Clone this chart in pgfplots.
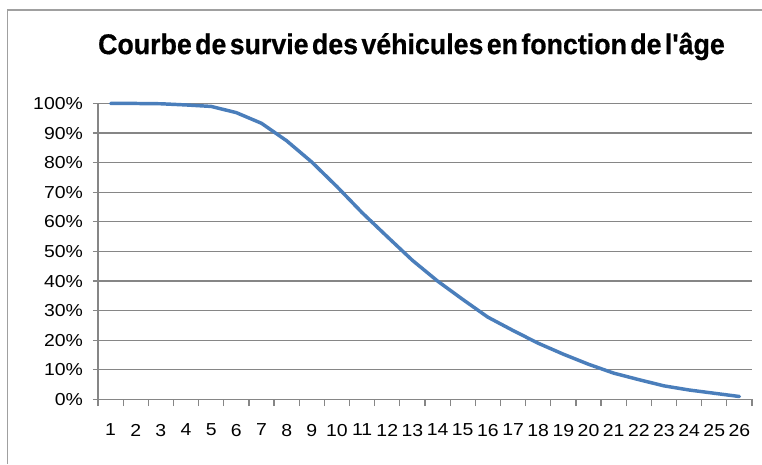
\documentclass[border=0pt]{standalone}
\usepackage{pgfplots}
\pgfplotsset{compat=1.18}
\usepackage{fontspec}
\setmainfont{Liberation Sans}
\newfontfamily\tickfont[FakeStretch=1.12]{Liberation Sans}
\newfontfamily\titlefont[WordSpace=0.45, FakeBold=0.6]{Liberation Sans Bold}
\definecolor{linecol}{RGB}{74,126,187}
\definecolor{gridcol}{RGB}{134,134,134}
\definecolor{framecol}{RGB}{160,160,160}
\begin{document}
\begin{tikzpicture}
\path[use as bounding box, fill=white] (0,0) rectangle (571.5pt,-348pt);
\draw[framecol, line width=1.1pt] (5.8pt,-348pt) -- (5.8pt,-7.5pt) -- (571.5pt,-7.5pt);
\node[anchor=base, inner sep=0pt] at (308.6pt,-40.6pt) {\resizebox{470pt}{16pt}{\titlefont Courbe de survie des véhicules en fonction de l'âge}};
\begin{axis}[
  scale only axis,
  width=490.5pt, height=222pt,
  at={(73.5pt,-299.6pt)}, anchor=south west,
  xmin=0.5, xmax=26.5, ymin=0, ymax=100,
  axis x line*=bottom, axis y line*=left,
  axis line style={gridcol, line width=0.9pt, -},
  xtick={1,...,26},
  xticklabels={1,2,3,4,5,6,7,8,9,10,11,12,13,14,15,16,17,18,19,20,21,22,23,24,25,26},
  minor xtick={0.5,1.5,...,26.5},
  major x tick style={draw=none},
  minor tick length=5pt,
  minor x tick style={gridcol, line width=0.9pt},
  ytick={0,10,...,100},
  yticklabels={0\%,10\%,20\%,30\%,40\%,50\%,60\%,70\%,80\%,90\%,100\%},
  major tick length=3.8pt,
  tick align=outside,
  y tick style={gridcol, line width=0.9pt},
  ymajorgrids,
  major grid style={gridcol, line width=0.9pt},
  tick label style={font=\tickfont\fontsize{13}{15}\selectfont, text=black},
  /pgf/number format/assume math mode=true,
  xticklabel style={yshift=-11pt},
  yticklabel style={xshift=-4pt},
  clip=false,
]
\addplot[linecol, line width=2.6pt, line join=round, line cap=round] coordinates {
(1,100) (2,100) (3,99.9) (4,99.5) (5,99) (6,96.9) (7,93.3) (8,87.4) (9,80.2) (10,71.9)
(11,63.1) (12,55) (13,47) (14,40) (15,33.8) (16,27.8) (17,23.3) (18,19) (19,15.3)
(20,11.9) (21,8.9) (22,6.7) (23,4.6) (24,3.2) (25,2.1) (26,1.0)
};
\end{axis}
\end{tikzpicture}
\end{document}
